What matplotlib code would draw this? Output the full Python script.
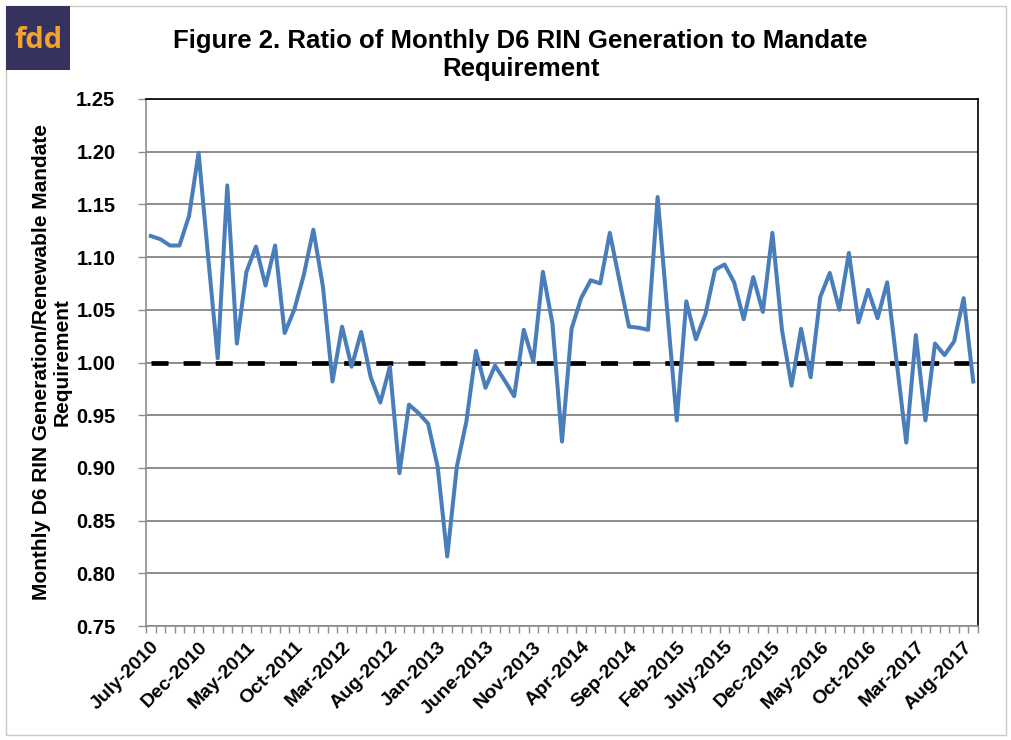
import numpy as np
import matplotlib.pyplot as plt
from matplotlib.patches import Rectangle

# months July-2010 .. Sep-2017
months = ['July-2010', 'Aug-2010', 'Sep-2010', 'Oct-2010', 'Nov-2010', 'Dec-2010',
          'Jan-2011', 'Feb-2011', 'Mar-2011', 'Apr-2011', 'May-2011', 'June-2011',
          'July-2011', 'Aug-2011', 'Sep-2011', 'Oct-2011', 'Nov-2011', 'Dec-2011',
          'Jan-2012', 'Feb-2012', 'Mar-2012', 'Apr-2012', 'May-2012', 'June-2012',
          'July-2012', 'Aug-2012', 'Sep-2012', 'Oct-2012', 'Nov-2012', 'Dec-2012',
          'Jan-2013', 'Feb-2013', 'Mar-2013', 'Apr-2013', 'May-2013', 'June-2013',
          'July-2013', 'Aug-2013', 'Sep-2013', 'Oct-2013', 'Nov-2013', 'Dec-2013',
          'Jan-2014', 'Feb-2014', 'Mar-2014', 'Apr-2014', 'May-2014', 'June-2014',
          'July-2014', 'Aug-2014', 'Sep-2014', 'Oct-2014', 'Nov-2014', 'Dec-2014',
          'Jan-2015', 'Feb-2015', 'Mar-2015', 'Apr-2015', 'May-2015', 'June-2015',
          'July-2015', 'Aug-2015', 'Sep-2015', 'Oct-2015', 'Nov-2015', 'Dec-2015',
          'Jan-2016', 'Feb-2016', 'Mar-2016', 'Apr-2016', 'May-2016', 'June-2016',
          'July-2016', 'Aug-2016', 'Sep-2016', 'Oct-2016', 'Nov-2016', 'Dec-2016',
          'Jan-2017', 'Feb-2017', 'Mar-2017', 'Apr-2017', 'May-2017', 'June-2017',
          'July-2017', 'Aug-2017', 'Sep-2017']

ratio = [1.120, 1.117, 1.111, 1.111, 1.139, 1.199, 1.100, 1.004, 1.168, 1.018,
         1.086, 1.110, 1.073, 1.111, 1.028, 1.050, 1.083, 1.126, 1.072, 0.982,
         1.034, 0.996, 1.029, 0.986, 0.962, 0.996, 0.895, 0.960, 0.952, 0.942,
         0.901, 0.816, 0.901, 0.944, 1.011, 0.976, 0.997, 0.983, 0.968, 1.031,
         1.001, 1.086, 1.037, 0.925, 1.032, 1.061, 1.078, 1.075, 1.123, 1.078,
         1.034, 1.033, 1.031, 1.157, 1.050, 0.945, 1.058, 1.022, 1.046, 1.088,
         1.093, 1.076, 1.041, 1.081, 1.048, 1.123, 1.031, 0.978, 1.032, 0.986,
         1.062, 1.085, 1.050, 1.104, 1.038, 1.069, 1.042, 1.076, 1.000, 0.924,
         1.026, 0.945, 1.018, 1.007, 1.020, 1.061, 0.982]

mandate = 1.00
yticks = [0.75, 0.80, 0.85, 0.90, 0.95, 1.00, 1.05, 1.10, 1.15, 1.20, 1.25]

plt.rcParams['font.family'] = ['Liberation Sans', 'DejaVu Sans']

fig = plt.figure(figsize=(10.11, 7.40), dpi=100)
ax = fig.add_axes([146 / 1011, 1 - 626 / 740, 832 / 1011, 527 / 740])

x = np.arange(len(months))
ax.hlines(mandate, x[0], x[-1], colors='black', linewidth=3.4,
          linestyles=(0, (3.6, 3.2)), zorder=3)
ax.plot(x, ratio, color='#4a7ebb', linewidth=2.9, zorder=4)

ax.set_xlim(-0.5, len(months) - 0.5)
ax.set_ylim(0.75, 1.25)
ax.set_yticks(yticks)
ax.set_yticklabels([f'{v:.2f}' for v in yticks], fontsize=14.5, fontweight='bold')
ax.yaxis.grid(True, color='#8c8c8c', linewidth=1.4)
ax.set_axisbelow(True)

ax.set_xticks(x[::5])
ax.set_xticklabels(months[::5], rotation=45, ha='right', rotation_mode='anchor',
                   fontsize=14, fontweight='bold')
ax.set_xticks(np.arange(-0.5, len(months)), minor=True)
ax.tick_params(axis='x', which='major', length=0, pad=9)
ax.tick_params(axis='x', which='minor', length=5, color='#8c8c8c', width=1)
ax.tick_params(axis='y', length=6, color='#8c8c8c', width=1, pad=16)

for side in ['left', 'bottom']:
    ax.spines[side].set_color('#8c8c8c')
    ax.spines[side].set_linewidth(1.2)
for side in ['top', 'right']:
    ax.spines[side].set_color('black')
    ax.spines[side].set_linewidth(1.2)

ax.set_ylabel('Monthly D6 RIN Generation/Renewable Mandate\nRequirement',
              fontsize=15, fontweight='bold', labelpad=3, linespacing=1.15)

fig.text(0.515, 0.926, 'Figure 2. Ratio of Monthly D6 RIN Generation to Mandate\nRequirement',
         ha='center', va='center', fontsize=18.5, fontweight='bold', linespacing=1.2)

# figure border and logo
fig.patches.append(Rectangle((6 / 1011, 1 - 735 / 740), 1000 / 1011, 729 / 740,
                             transform=fig.transFigure, fill=False,
                             edgecolor='#c8c8c8', linewidth=1))
fig.patches.append(Rectangle((6 / 1011, 1 - 70 / 740), 64 / 1011, 64 / 740,
                             transform=fig.transFigure, facecolor='#35325f',
                             edgecolor='none'))
fig.text(38 / 1011, 1 - 40 / 740, 'fdd', ha='center', va='center', fontsize=21,
         color='#f6a22e', family=['Open Sans', 'DejaVu Sans'], fontweight='bold')

plt.savefig('out.png', dpi=100)
